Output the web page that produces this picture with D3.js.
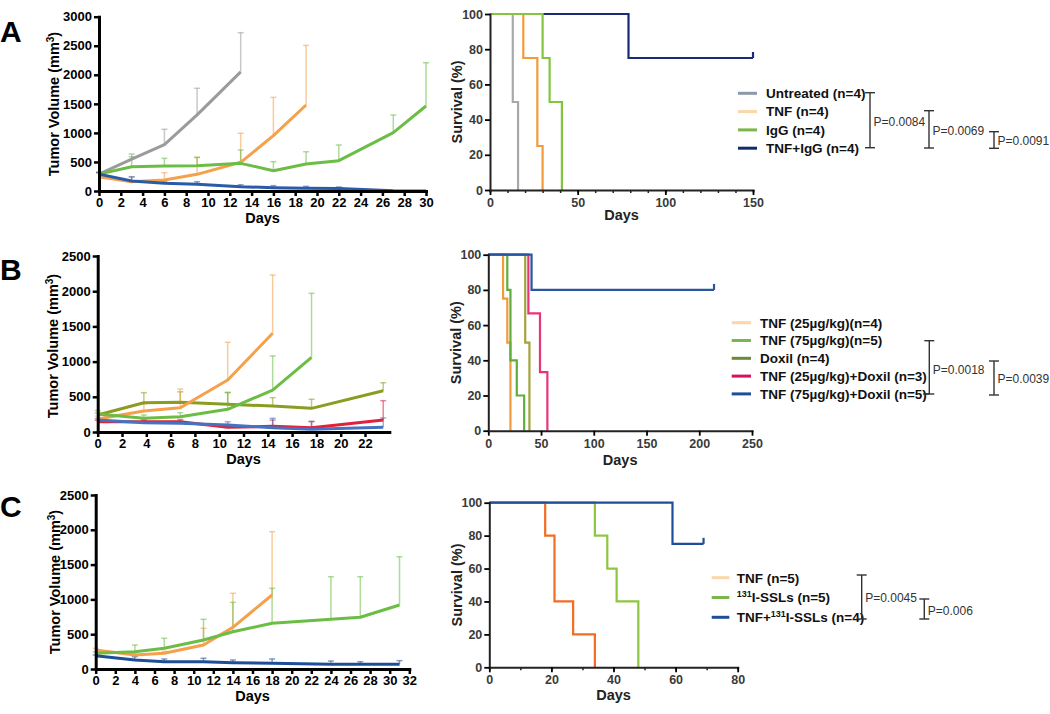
<!DOCTYPE html>
<html><head><meta charset="utf-8">
<script src="https://cdn.jsdelivr.net/npm/d3@7"></script>
<style>body{margin:0;background:#fff} svg{display:block}</style>
</head><body><svg id="c" width="1050" height="714"></svg>
<script>
// ---------- Panel A : tumour volume ----------
const aDays = [0,3,6,9,13,16,19,22,27,30];
const aUntreated = [290,550,800,1310,2050];
const aUntreatedErr = [30,87,262,458,675];
const aTNF = [246,160,190,287,494,952,1480];
const aTNFErr = [60,75,125,290,500,660,1027];
const aIgG = [290,418,429,435,476,350,465,522,1004,1463];
const aIgGErr = [30,172,133,145,229,155,211,270,304,745];
const aTNFIgG = [290,172,132,115,74,57,49,45,5,0];
const aTNFIgGErr = [30,74,30,45,34,35,31,24,0,0];
const aXTicks = d3.range(0,31,2);
const aYTicks = [0,500,1000,1500,2000,2500,3000];
// ---------- Panel A : survival (day, % surviving) ----------
const aSurvUntreated = [[0,100],[13,50],[16,0]];
const aSurvTNF = [[0,100],[19,75],[27,25],[30,0]];
const aSurvIgG = [[0,100],[30,75],[34,50],[41,0]];
const aSurvTNFIgG = [[0,100],[79,75],[150,75]];
const aLegend = ["Untreated (n=4)","TNF (n=4)","IgG (n=4)","TNF+IgG (n=4)"];
const aPvals = ["P=0.0084","P=0.0069","P=0.0091"];

// ---------- Panel B : tumour volume ----------
const bDays = [0,3.8,6.8,10.7,14.4,17.6,23.5];
const bTNF25 = [185,298,345,739,1402];
const bTNF25Err = [40,100,265,535,828];
const bTNF75 = [256,194,218,322,596,1061];
const bTNF75Err = [50,47,57,237,484,909];
const bDoxil = [241,416,421,393,369,336,587];
const bDoxilErr = [30,143,150,170,119,129,113];
const bTNF25Dox = [147,147,147,66,80,59,170];
const bTNF25DoxErr = [20,30,30,40,90,90,275];
const bTNF75Dox = [170,132,123,99,62,38,66];
const bTNF75DoxErr = [20,30,30,47,133,112,134];
const bXTicks = d3.range(0,23,2);
const bYTicks = [0,500,1000,1500,2000,2500];
// ---------- Panel B : survival ----------
const bSurvTNF25 = [[0,100],[14,75],[18,50],[21,0]];
const bSurvTNF75 = [[0,100],[18,80],[21,40],[27,20],[34,0]];
const bSurvDoxil = [[0,100],[35,50],[39,0]];
const bSurvTNF25Dox = [[0,100],[38,66.7],[49,33.3],[56,0]];
const bSurvTNF75Dox = [[0,100],[41,80],[214,80]];
const bLegend = ["TNF (25\u00b5g/kg)(n=4)","TNF (75\u00b5g/kg)(n=5)","Doxil (n=4)","TNF (25\u00b5g/kg)+Doxil (n=3)","TNF (75\u00b5g/kg)+Doxil (n=5)"];
const bPvals = ["P=0.0018","P=0.0039"];

// ---------- Panel C : tumour volume ----------
const cDays = [0,4,7,11,14,18,24,27,31];
const cTNF = [273,201,225,345,599,1063];
const cTNFErr = [24,30,30,240,489,910];
const cSSL = [225,249,297,417,536,656,714,743,920];
const cSSLErr = [20,96,144,297,422,503,612,583,693];
const cTNFSSL = [191,129,105,105,91,82,67,67,67];
const cTNFSSLErr = [10,48,39,49,38,62,48,38,53];
const cXTicks = d3.range(0,33,2);
const cYTicks = [0,500,1000,1500,2000,2500];
// ---------- Panel C : survival ----------
const cSurvTNF = [[0,100],[18,80],[21,40],[27,20],[34,0]];
const cSurvSSL = [[0,100],[34,80],[38,60],[41,40],[48,0]];
const cSurvTNFSSL = [[0,100],[59,75],[69,75]];
const cPvals = ["P=0.0045","P=0.006"];

const survYTicks = [0,20,40,60,80,100];

const FONT = '"Liberation Sans", Arial, Helvetica, sans-serif';
const svg = d3.select('#c').style('font-family', FONT);

function styleAxis(a, w, tickW, fs, col) {
  a.attr('font-family', FONT).attr('font-size', fs);
  a.select('.domain').attr('stroke', '#000').attr('stroke-width', w).attr('stroke-linecap','square');
  a.selectAll('.tick line').attr('stroke', '#000').attr('stroke-width', tickW);
  a.selectAll('.tick text').attr('font-size', fs).attr('font-weight', 'bold').attr('fill', col);
}

function tumor(cfg) {
  const g = svg.append('g');
  const x = d3.scaleLinear().domain([0, cfg.xMax]).range([cfg.left, cfg.right]);
  const y = d3.scaleLinear().domain([0, cfg.yMax]).range([cfg.bottom, cfg.top]);
  cfg.series.forEach(s => {
    const eg = g.append('g').attr('stroke', s.color).attr('stroke-opacity', 0.55).attr('stroke-width', 1.5);
    s.vals.forEach((v, i) => {
      const e = s.errs[i];
      if (!e) return;
      const xx = x(cfg.days[i]);
      eg.append('line').attr('x1', xx).attr('x2', xx).attr('y1', y(v)).attr('y2', y(v + e));
      eg.append('line').attr('x1', xx - 3).attr('x2', xx + 3).attr('y1', y(v + e)).attr('y2', y(v + e));
    });
  });
  cfg.series.forEach(s => {
    const pts = s.vals.map((v, i) => [cfg.days[i], v]);
    g.append('path').datum(pts)
      .attr('d', d3.line().x(d => x(d[0])).y(d => y(d[1])))
      .attr('fill', 'none').attr('stroke', s.color).attr('stroke-width', 3).attr('stroke-linejoin','round');
  });
  const ax = g.append('g').attr('transform', `translate(0,${cfg.bottom})`)
    .call(d3.axisBottom(x).tickValues(cfg.xTicks).tickFormat(d3.format('d')).tickSize(5).tickSizeOuter(0).tickPadding(2));
  const ay = g.append('g').attr('transform', `translate(${cfg.left},0)`)
    .call(d3.axisLeft(y).tickValues(cfg.yTicks).tickFormat(d3.format('d')).tickSize(5).tickSizeOuter(0).tickPadding(2));
  styleAxis(ax, 3, 2.5, 13, '#000');
  styleAxis(ay, 3, 2.5, 13, '#000');
  g.append('text').attr('x', (cfg.left + cfg.right) / 2).attr('y', cfg.daysY)
    .attr('text-anchor', 'middle').attr('font-size', 14.5).attr('font-weight', 'bold').text('Days');
  const t = g.append('text').attr('transform', `translate(${cfg.titleX},${cfg.titleY}) rotate(-90)`)
    .attr('text-anchor', 'middle').attr('font-size', 14.5).attr('font-weight', 'bold');
  t.append('tspan').text('Tumor Volume (mm');
  t.append('tspan').attr('dy', -5).attr('font-size', 10).text('3');
  t.append('tspan').attr('dy', 5).text(')');
  g.append('text').attr('x', 0).attr('y', cfg.letterY).attr('font-size', 30).attr('font-weight', 'bold').text(cfg.letter);
}

function survival(cfg) {
  const g = svg.append('g');
  const x = d3.scaleLinear().domain([0, cfg.xMax]).range([cfg.left, cfg.right]);
  const y = d3.scaleLinear().domain([0, 100]).range([cfg.bottom, cfg.top]);
  const line = d3.line().x(d => x(d[0])).y(d => y(d[1])).curve(d3.curveStepAfter);
  cfg.series.forEach(s => {
    g.append('path').datum(s.pts).attr('d', line).attr('fill', 'none')
      .attr('stroke', s.color).attr('stroke-width', 2.2);
    if (s.censored) {
      const last = s.pts[s.pts.length - 1];
      g.append('line').attr('x1', x(last[0])).attr('x2', x(last[0]))
        .attr('y1', y(last[1])).attr('y2', y(last[1]) - 6)
        .attr('stroke', s.color).attr('stroke-width', 2.2);
    }
  });
  if (cfg.minor) {
    const mg = g.append('g').attr('transform', `translate(0,${cfg.bottom})`)
      .call(d3.axisBottom(x).tickValues(cfg.minor).tickSize(3).tickFormat(''));
    mg.select('.domain').remove();
    mg.selectAll('.tick line').attr('stroke', '#222').attr('stroke-width', 1.5);
  }
  const ax = g.append('g').attr('transform', `translate(0,${cfg.bottom})`)
    .call(d3.axisBottom(x).tickValues(cfg.xTicks).tickFormat(d3.format('d')).tickSize(5).tickSizeOuter(0).tickPadding(3));
  const ay = g.append('g').attr('transform', `translate(${cfg.left},0)`)
    .call(d3.axisLeft(y).tickValues(survYTicks).tickFormat(d3.format('d')).tickSize(5).tickSizeOuter(0).tickPadding(2));
  styleAxis(ax, 2, 1.8, 12.5, '#3a3a3a');
  styleAxis(ay, 2, 1.8, 12.5, '#3a3a3a');
  ax.select('.domain').attr('stroke', '#222');
  ay.select('.domain').attr('stroke', '#222');
  g.append('text').attr('x', (cfg.left + cfg.right) / 2).attr('y', cfg.daysY)
    .attr('text-anchor', 'middle').attr('font-size', 14.5).attr('font-weight', 'bold').attr('fill', '#222').text('Days');
  g.append('text').attr('transform', `translate(${cfg.titleX},${(cfg.top + cfg.bottom) / 2}) rotate(-90)`)
    .attr('text-anchor', 'middle').attr('font-size', 14.5).attr('font-weight', 'bold').attr('fill', '#222').text('Survival (%)');
}

function legend(cfg) {
  const g = svg.append('g');
  cfg.items.forEach((it, i) => {
    const yy = cfg.y0 + i * cfg.dy;
    g.append('line').attr('x1', cfg.mx0).attr('x2', cfg.mx1).attr('y1', yy).attr('y2', yy)
      .attr('stroke', it.color).attr('stroke-width', 3);
    const t = g.append('text').attr('x', cfg.tx).attr('y', yy + 4.8).attr('font-size', 13.5)
      .attr('font-weight', 'bold').attr('fill', '#111');
    it.parts.forEach(p => {
      if (p.sup) t.append('tspan').attr('dy', -5).attr('font-size', 9).text(p.sup);
      else t.append('tspan').attr('dy', p.after ? 5 : 0).text(p.t);
    });
  });
}

function bracket(x, y1, y2, label, ty) {
  const g = svg.append('g').attr('stroke', '#333').attr('stroke-width', 1.4);
  g.append('line').attr('x1', x).attr('x2', x).attr('y1', y1).attr('y2', y2);
  g.append('line').attr('x1', x - 5).attr('x2', x + 5).attr('y1', y1).attr('y2', y1);
  g.append('line').attr('x1', x - 5).attr('x2', x + 5).attr('y1', y2).attr('y2', y2);
  svg.append('text').attr('x', x + 3.5).attr('y', ty + 4.5).attr('font-size', 12)
    .attr('fill', '#333').text(label);
}

// ----- A -----
tumor({ left: 99, right: 426, bottom: 191, top: 16.7, xMax: 30, yMax: 3000,
  xTicks: aXTicks, yTicks: aYTicks, days: aDays, daysY: 222.5, titleX: 58.5, titleY: 104,
  letter: 'A', letterY: 42,
  series: [
    { vals: aUntreated, errs: aUntreatedErr, color: '#9b9b9b' },
    { vals: aTNF, errs: aTNFErr, color: '#f5a04a' },
    { vals: aIgG, errs: aIgGErr, color: '#6cbd45' },
    { vals: aTNFIgG, errs: aTNFIgGErr, color: '#2b5ba8' }
  ] });
survival({ left: 490, right: 753, bottom: 190, top: 14, xMax: 150,
  xTicks: [0, 50, 100, 150], minor: d3.range(0, 151, 10), daysY: 220, titleX: 461.5,
  series: [
    { pts: aSurvTNFIgG, color: '#1b2a78', censored: true },
    { pts: aSurvUntreated, color: '#a9a9a9' },
    { pts: aSurvTNF, color: '#f39a3a' },
    { pts: aSurvIgG, color: '#83c441' }
  ] });
legend({ y0: 93.3, dy: 18.3, mx0: 738, mx1: 757, tx: 766, items: [
  { color: '#8d98a8', parts: [{ t: aLegend[0] }] },
  { color: '#fcd6a8', parts: [{ t: aLegend[1] }] },
  { color: '#7ab648', parts: [{ t: aLegend[2] }] },
  { color: '#0f2d6b', parts: [{ t: aLegend[3] }] }
] });
bracket(870, 92.7, 147.7, aPvals[0], 121);
bracket(929, 110.7, 148, aPvals[1], 130.5);
bracket(994, 131.7, 148.3, aPvals[2], 140.5);

// ----- B -----
tumor({ left: 97.7, right: 389.3, bottom: 432, top: 256, xMax: 24, yMax: 2500,
  xTicks: bXTicks, yTicks: bYTicks, days: bDays, daysY: 464, titleX: 58, titleY: 346,
  letter: 'B', letterY: 280,
  series: [
    { vals: bDoxil, errs: bDoxilErr, color: '#8a9d22' },
    { vals: bTNF25, errs: bTNF25Err, color: '#f5a04a' },
    { vals: bTNF75, errs: bTNF75Err, color: '#6cbd45' },
    { vals: bTNF25Dox, errs: bTNF25DoxErr, color: '#e0213c' },
    { vals: bTNF75Dox, errs: bTNF75DoxErr, color: '#4573c0' }
  ] });
survival({ left: 488.3, right: 752, bottom: 430.7, top: 254.7, xMax: 250,
  xTicks: [0, 50, 100, 150, 200, 250], daysY: 465, titleX: 461,
  series: [
    { pts: bSurvTNF25, color: '#f39a3a' },
    { pts: bSurvTNF75, color: '#5fae3c' },
    { pts: bSurvDoxil, color: '#a3a23c' },
    { pts: bSurvTNF25Dox, color: '#e8357a' },
    { pts: bSurvTNF75Dox, color: '#2857a0', censored: true }
  ] });
legend({ y0: 322.7, dy: 17.8, mx0: 731.7, mx1: 751, tx: 760, items: [
  { color: '#fcd6a8', parts: [{ t: bLegend[0] }] },
  { color: '#7ab648', parts: [{ t: bLegend[1] }] },
  { color: '#6b8a35', parts: [{ t: bLegend[2] }] },
  { color: '#d6105f', parts: [{ t: bLegend[3] }] },
  { color: '#1f4e96', parts: [{ t: bLegend[4] }] }
] });
svg.append('line').attr('x1', 923).attr('x2', 929).attr('y1', 394).attr('y2', 394).attr('stroke', '#333').attr('stroke-width', 1.4);
bracket(929.3, 340.7, 394, bPvals[0], 369);
bracket(994, 361, 395, bPvals[1], 378);

// ----- C -----
tumor({ left: 95.7, right: 409.3, bottom: 669, top: 495, xMax: 32, yMax: 2500,
  xTicks: cXTicks, yTicks: cYTicks, days: cDays, daysY: 701, titleX: 60, titleY: 582,
  letter: 'C', letterY: 517,
  series: [
    { vals: cTNF, errs: cTNFErr, color: '#f5a04a' },
    { vals: cSSL, errs: cSSLErr, color: '#6cbd45' },
    { vals: cTNFSSL, errs: cTNFSSLErr, color: '#1f4e96' }
  ] });
survival({ left: 489.3, right: 737.7, bottom: 667.3, top: 502.7, xMax: 80,
  xTicks: [0, 20, 40, 60, 80], minor: d3.range(0, 81, 10), daysY: 700, titleX: 462,
  series: [
    { pts: cSurvTNF, color: '#f26c22' },
    { pts: cSurvSSL, color: '#8dc63f' },
    { pts: cSurvTNFSSL, color: '#1f4e96', censored: true }
  ] });
legend({ y0: 577.7, dy: 19.8, mx0: 711.7, mx1: 729.3, tx: 736.7, items: [
  { color: '#fcd6a8', parts: [{ t: 'TNF (n=5)' }] },
  { color: '#7ab648', parts: [{ sup: '131' }, { t: 'I-SSLs (n=5)', after: true }] },
  { color: '#1f4e96', parts: [{ t: 'TNF+' }, { sup: '131' }, { t: 'I-SSLs (n=4)', after: true }] }
] });
bracket(861.7, 575, 619, cPvals[0], 597);
bracket(924.3, 599, 619, cPvals[1], 610);
</script></body></html>
